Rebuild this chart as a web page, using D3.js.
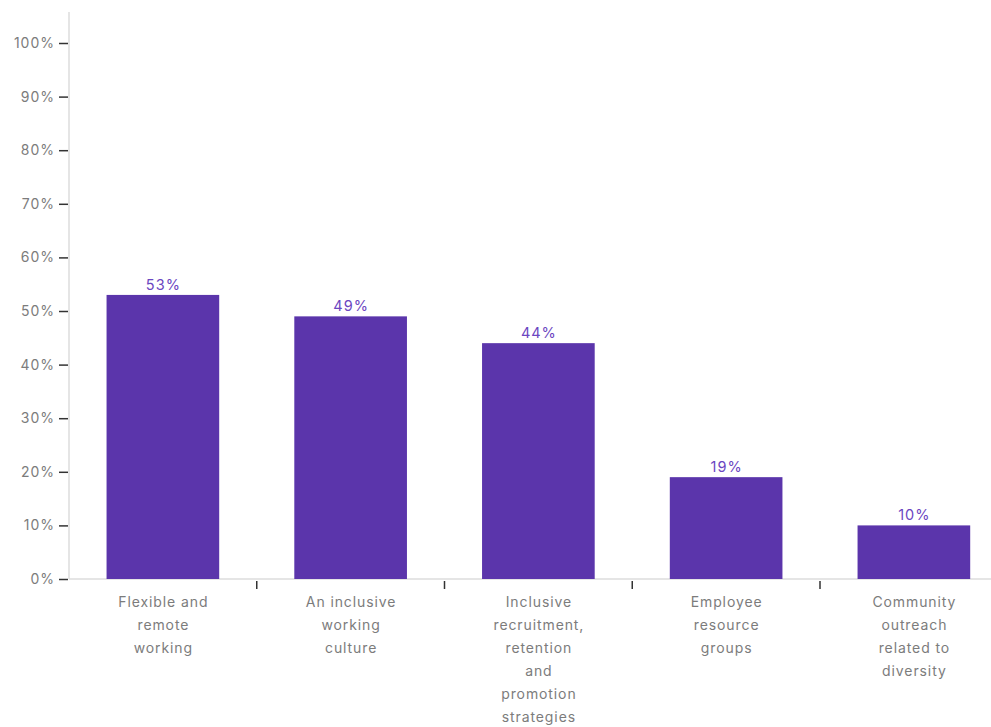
<!DOCTYPE html>
<html>
<head>
<meta charset="utf-8">
<script src="https://cdn.jsdelivr.net/npm/d3@7/dist/d3.min.js"></script>
<style>
  html, body { margin: 0; padding: 0; background: #fff; }
  svg { display: block; font-family: Inter, "Noto Sans", sans-serif; }
</style>
</head>
<body>
<svg id="chart" width="991" height="727"></svg>
<script>
// Share of respondents citing each initiative
const categories = [
  ["Flexible and", "remote", "working"],
  ["An inclusive", "working", "culture"],
  ["Inclusive", "recruitment,", "retention", "and", "promotion", "strategies"],
  ["Employee", "resource", "groups"],
  ["Community", "outreach", "related to", "diversity"]
];
const values = [53, 49, 44, 19, 10];
const yTicks = [0, 10, 20, 30, 40, 50, 60, 70, 80, 90, 100];

const svg = d3.select("#chart");
const plotLeft = 69, plotBottom = 579, plotTop = 43;
const barColor = "#5b35ab";
const labelColor = "#6b46c1";
const textColor = "#7c7c7c";

const ids = categories.map((c, i) => i);
const x = d3.scaleBand()
  .domain(ids)
  .range([plotLeft, 1007.75])
  .paddingInner(0.4)
  .paddingOuter(0.2);

const y = d3.scaleLinear().domain([0, 100]).range([plotBottom, plotTop]);

// axis lines
svg.append("line")
  .attr("x1", plotLeft).attr("x2", plotLeft)
  .attr("y1", 12).attr("y2", plotBottom)
  .attr("stroke", "#ddd").attr("stroke-width", 1.5);
svg.append("line")
  .attr("x1", plotLeft).attr("x2", 991)
  .attr("y1", plotBottom).attr("y2", plotBottom)
  .attr("stroke", "#ddd").attr("stroke-width", 1.5);

// y axis
const yAxis = d3.axisLeft(y)
  .tickValues(yTicks)
  .tickFormat(d => d + "%")
  .tickSize(9)
  .tickPadding(5);
const gy = svg.append("g").attr("transform", `translate(${plotLeft - 1},0)`).call(yAxis);
gy.select(".domain").remove();
gy.selectAll(".tick line").attr("stroke", "#333").attr("stroke-width", 1.5);
gy.selectAll(".tick text")
  .attr("fill", textColor)
  .attr("dx", 1)
  .style("font-size", "14px")
  .style("letter-spacing", "1px")
  .style("font-family", "Inter, 'Noto Sans', sans-serif");

// category separators on the x axis
const step = x.step();
const half = step * x.paddingInner() / 2;
svg.append("g").selectAll("line")
  .data(ids.slice(1))
  .join("line")
  .attr("x1", d => x(d) - half).attr("x2", d => x(d) - half)
  .attr("y1", plotBottom + 2).attr("y2", plotBottom + 10)
  .attr("stroke", "#333").attr("stroke-width", 1.5);

// bars
svg.append("g").selectAll("rect")
  .data(values)
  .join("rect")
  .attr("x", (d, i) => x(i))
  .attr("width", x.bandwidth())
  .attr("y", d => y(d))
  .attr("height", d => y(0) - y(d))
  .attr("fill", barColor);

// value labels
svg.append("g").selectAll("text")
  .data(values)
  .join("text")
  .attr("x", (d, i) => x(i) + x.bandwidth() / 2 + 0.5)
  .attr("y", d => y(d) - 5)
  .attr("text-anchor", "middle")
  .attr("fill", labelColor)
  .style("font-size", "14.5px")
  .style("letter-spacing", "1px")
  .text(d => d + "%");

// category labels
const cat = svg.append("g").selectAll("text")
  .data(categories)
  .join("text")
  .attr("x", (d, i) => x(i) + x.bandwidth() / 2 + 0.5)
  .attr("y", 607)
  .attr("text-anchor", "middle")
  .attr("fill", textColor)
  .style("font-size", "14px")
  .style("letter-spacing", "0.9px");
cat.selectAll("tspan")
  .data(d => d)
  .join("tspan")
  .attr("x", function () { return d3.select(this.parentNode).attr("x"); })
  .attr("dy", (d, i) => i === 0 ? 0 : 23)
  .text(d => d);
</script>
</body>
</html>
